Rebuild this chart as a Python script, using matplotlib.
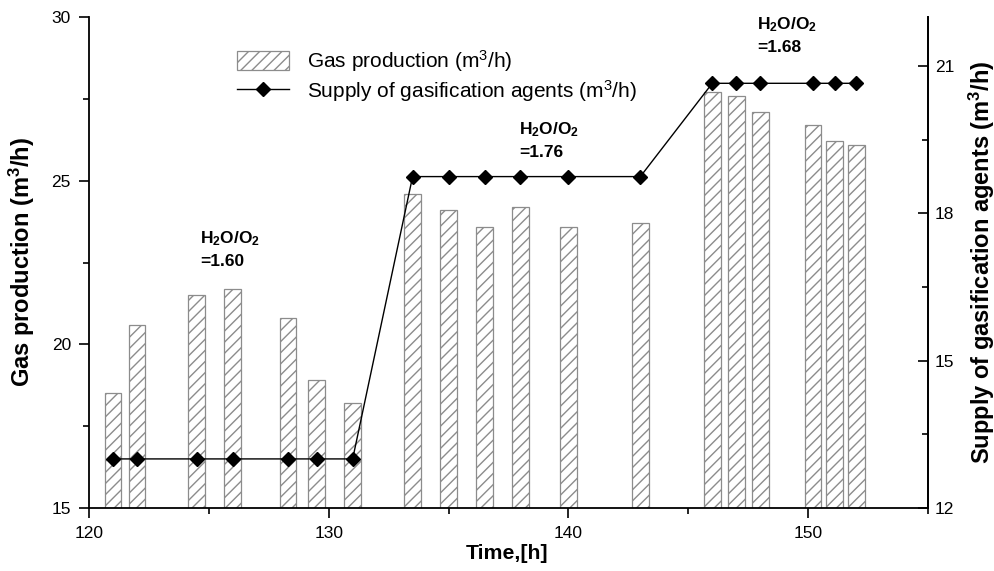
import numpy as np
import matplotlib.pyplot as plt
from matplotlib.ticker import MultipleLocator

plt.rcParams["font.family"] = ["Liberation Sans", "DejaVu Sans"]
plt.rcParams["mathtext.fontset"] = "custom"
plt.rcParams["mathtext.rm"] = "Liberation Sans"
plt.rcParams["mathtext.bf"] = "Liberation Sans:bold"
plt.rcParams["mathtext.it"] = "Liberation Sans:italic"

# ---------- data ----------
bar_time = [121, 122, 124.5, 126, 128.3, 129.5, 131,
            133.5, 135, 136.5, 138, 140, 143,
            146, 147, 148, 150.2, 151.1, 152]
gas_prod = [18.5, 20.6, 21.5, 21.7, 20.8, 18.9, 18.2,
            24.6, 24.1, 23.6, 24.2, 23.6, 23.7,
            27.7, 27.6, 27.1, 26.7, 26.2, 26.1]
supply = [13.0, 13.0, 13.0, 13.0, 13.0, 13.0, 13.0,
          18.75, 18.75, 18.75, 18.75, 18.75, 18.75,
          20.65, 20.65, 20.65, 20.65, 20.65, 20.65]

ratio_labels = ["=1.60", "=1.76", "=1.68"]
ratio_pos = [(124.65, 23.5), (137.95, 26.83), (147.87, 30.05)]

# ---------- plot ----------
fig = plt.figure(figsize=(9.95, 5.71), dpi=100)
ax = fig.add_axes([0.0894, 0.1103, 0.8433, 0.8599])

ax.bar(bar_time, gas_prod, width=0.7, color="white", edgecolor="#8c8c8c",
       hatch="///", linewidth=0.9, label="Gas production (m$^3$/h)", zorder=2)
ax.set_xlim(120, 155)
ax.set_ylim(15, 30)

ax2 = ax.twinx()
ax2.plot(bar_time, supply, color="black", lw=1.0, marker="D", markersize=7,
         label="Supply of gasification agents (m$^3$/h)", zorder=3)
ax2.set_ylim(12, 22)

# spines / ticks
for a in (ax, ax2):
    a.spines["top"].set_visible(False)
    a.spines[:].set_linewidth(1.3)
ax2.spines["left"].set_visible(False)
ax2.spines["bottom"].set_visible(False)

ax.xaxis.set_major_locator(MultipleLocator(10))
ax.xaxis.set_minor_locator(MultipleLocator(5))
ax.yaxis.set_major_locator(MultipleLocator(5))
ax.yaxis.set_minor_locator(MultipleLocator(2.5))
ax2.yaxis.set_minor_locator(MultipleLocator(1.5))
ax2.set_yticks([12, 15, 18, 21])

ax.tick_params(axis="both", which="major", direction="out", length=7, width=1.2,
               labelsize=12.5, pad=6)
ax.tick_params(axis="both", which="minor", direction="out", length=4, width=1.2)
ax2.tick_params(axis="y", which="major", direction="in", length=7, width=1.2,
                labelsize=12.5, pad=5)
ax2.tick_params(axis="y", which="minor", direction="in", length=4, width=1.2)

ax.set_xlabel("Time,[h]", fontsize=15.3, fontweight="bold")
ax.xaxis.set_label_coords(0.498, -0.073)
ax.set_ylabel("Gas production (m$^\\mathbf{3}$/h)", fontsize=17, fontweight="bold")
ax.yaxis.set_label_coords(-0.062, 0.5)
ax2.set_ylabel("Supply of gasification agents (m$^\\mathbf{3}$/h)", fontsize=17,
               fontweight="bold")
ax2.yaxis.set_label_coords(1.046, 0.5)

# annotations
for lab, (xx, yy) in zip(ratio_labels, ratio_pos):
    ax.text(xx, yy, "H$_\\mathbf{2}$O/O$_\\mathbf{2}$\n" + lab, fontsize=12.5,
            fontweight="bold", ha="left", va="top", linespacing=1.5, clip_on=False)

# legend
h1, l1 = ax.get_legend_handles_labels()
h2, l2 = ax2.get_legend_handles_labels()
ax.legend(h1 + h2, l1 + l2, loc="upper left", bbox_to_anchor=(0.1665, 0.954),
          frameon=False, fontsize=15, handlelength=2.5, handleheight=1.0,
          handletextpad=0.87, numpoints=1, borderaxespad=0, labelspacing=0.2)

fig.savefig("out.png", dpi=100)
